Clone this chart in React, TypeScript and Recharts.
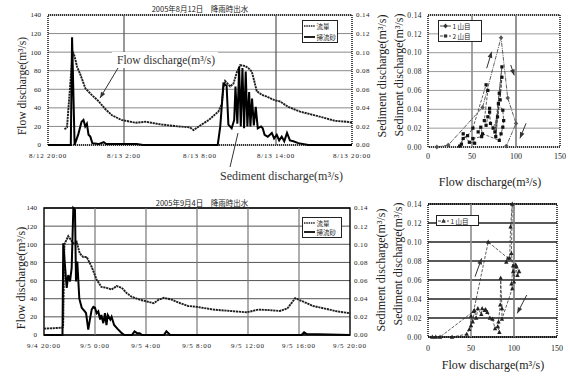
import React from "react";
import {
  LineChart,
  Line,
  ScatterChart,
  Scatter,
  XAxis,
  YAxis,
  CartesianGrid,
  ReferenceLine,
  ReferenceArea,
  Legend,
} from "recharts";

type Pair = [number, number];

const SERIF = "'Liberation Serif', 'DejaVu Serif', serif";
const CJK = "'Noto Sans CJK JP', 'Noto Sans CJK SC', sans-serif";

// time axes: hours after 20:00 of the first day
const augTicks = [0, 6, 12, 18, 24];
const augTickLabels = ["8/12 20:00", "8/13 2:00", "8/13 8:00", "8/13 14:00", "8/13 20:00"];
const sepTicks = [0, 4, 8, 12, 16, 20, 24];
const sepTickLabels = ["9/4 20:00", "9/5 0:00", "9/5 4:00", "9/5 8:00", "9/5 12:00", "9/5 16:00", "9/5 20:00"];
const flowTicks = [0, 20, 40, 60, 80, 100, 120, 140];
const sedTicks = [0, 0.02, 0.04, 0.06, 0.08, 0.1, 0.12, 0.14];
const qTicks = [0, 50, 100, 150];

const seriesNames = ["流量", "掃流砂"];
const loopNames = ["1 山目", "2 山目"];

// 2005/8/12 event  [hour, m3/s]
const augFlow: Pair[] = [
  [1.3, 17], [1.5, 19], [1.95, 100], [2.05, 98], [2.3, 84], [2.55, 76], [2.95, 61], [3.45, 54],
  [4.0, 47], [4.5, 39], [5.05, 32], [5.8, 27], [6.9, 24], [7.7, 25], [9.0, 22], [10.3, 20],
  [11.2, 19], [11.5, 16], [11.9, 20], [12.7, 27], [13.45, 36], [13.72, 44], [13.85, 62],
  [13.98, 69], [14.38, 63], [14.64, 66], [14.9, 78], [15.17, 86], [15.56, 85], [15.8, 83],
  [16.09, 79], [16.3, 68], [16.48, 58], [16.88, 54], [17.3, 52], [17.93, 48], [18.3, 47],
  [18.97, 41], [19.9, 36], [21.6, 30], [22.66, 26], [23.6, 25], [24, 24],
];
const augSediment: Pair[] = [
  [0, 0], [1.8, 0], [1.9, 0.116], [2.1, 0], [2.4, 0.012], [2.65, 0.025], [2.8, 0.027], [2.94, 0.02],
  [3.07, 0.023], [3.2, 0.011], [3.34, 0.009], [3.5, 0.002], [4.0, 0.001], [4.4, 0.003], [4.6, 0.001],
  [7.0, 0.001], [7.5, 0], [13.4, 0], [13.6, 0.02], [13.85, 0.066], [14.1, 0.064], [14.24, 0.022],
  [14.5, 0.018], [14.7, 0.027], [14.8, 0.063], [14.95, 0.023], [15.09, 0.084], [15.22, 0.02],
  [15.35, 0.083], [15.48, 0.018], [15.61, 0.079], [15.74, 0.02], [15.88, 0.057], [15.98, 0.02],
  [16.11, 0.05], [16.25, 0.021], [16.4, 0.041], [16.56, 0.018], [16.82, 0.02], [16.95, 0.018],
  [17.1, 0.011], [17.35, 0.009], [17.67, 0.013], [17.85, 0.007], [18.06, 0.011], [18.25, 0.005],
  [18.45, 0.009], [18.65, 0.004], [18.87, 0.013], [19.1, 0.005], [19.37, 0.004], [19.76, 0.002],
  [20.55, 0], [24, 0],
];

// 2005/9/4 event
const sepFlow: Pair[] = [
  [0, 7], [1.4, 8], [1.5, 9], [1.6, 100], [1.9, 109], [2.3, 101], [2.56, 103], [2.8, 90],
  [3.08, 86], [3.35, 86], [3.74, 75], [4.13, 61], [4.5, 53], [4.9, 52], [5.3, 50], [5.7, 54],
  [6.1, 52], [6.5, 46], [6.9, 42], [7.5, 39], [8.05, 37], [8.6, 35], [9.0, 39], [9.4, 41],
  [10.0, 39], [10.7, 35], [11.3, 32], [12.0, 31], [13.3, 28], [14.6, 26.5], [15.9, 25],
  [16.8, 28], [17.5, 27.6], [18.5, 26.5], [19.1, 29.5], [19.7, 40.5], [20.3, 37], [21.1, 32],
  [21.9, 29.5], [23.0, 26], [24, 24],
];
const sepSediment: Pair[] = [
  [0, 0], [1.45, 0], [1.51, 0.101], [1.78, 0.052], [1.9, 0.066], [2.04, 0.059], [2.17, 0.074],
  [2.3, 0.14], [2.43, 0.138], [2.51, 0.059], [2.61, 0.081], [2.77, 0.04], [2.96, 0.03],
  [3.2, 0.026], [3.3, 0.024], [3.47, 0.006], [3.6, 0.017], [3.74, 0.028], [3.87, 0.031],
  [4.0, 0.03], [4.13, 0.024], [4.26, 0.026], [4.4, 0.017], [4.5, 0.022], [4.65, 0.013],
  [4.78, 0.024], [4.9, 0.011], [5.0, 0.022], [5.2, 0.017], [5.3, 0.02], [5.5, 0.011],
  [5.75, 0.007], [6.1, 0.002], [6.3, 0], [6.9, 0], [7.1, 0.004], [7.3, 0.002], [7.5, 0.002],
  [7.7, 0], [9.4, 0], [9.6, 0.004], [9.9, 0], [20.2, 0], [20.4, 0.003], [20.6, 0.001], [24, 0],
];

// hysteresis loops  [flow, sediment]
const augLoop1: Pair[] = [
  [10, 0], [23, 0.002], [62, 0.042], [83, 0.116], [90.6, 0.052], [100, 0.025], [89, 0.001],
];
const augLoop2: Pair[] = [
  [36, 0.001], [40, 0.009], [45, 0.012], [51, 0.02], [66, 0.066], [68, 0.06], [64, 0.028],
  [66, 0.023], [68, 0.032], [70, 0.041], [70, 0.037], [71, 0.025], [74, 0.02], [79, 0.032],
  [81, 0.057], [84, 0.085], [76, 0.016], [82, 0.05], [84, 0.074], [77, 0.011], [80, 0.046],
  [85, 0.039], [86, 0.028], [85, 0.021], [83, 0.014], [81, 0.007], [62, 0.014], [60, 0.021],
  [57, 0.016], [61, 0.011], [51, 0.009], [53, 0.004], [47, 0.005], [40, 0.014], [38, 0.003],
];
const sepLoop1: Pair[] = [
  [5, 0], [9, 0], [14, 0], [53, 0.027], [70, 0.1], [93, 0.083], [91, 0.079], [95, 0.083],
  [96, 0.116], [98, 0.14], [97, 0.088], [99, 0.069], [100, 0.058], [102, 0.076], [104, 0.065],
  [106, 0.069], [103, 0.074], [99, 0.075], [97, 0.056], [98, 0.051], [86, 0.019], [86, 0.03],
  [84.5, 0.062], [84, 0.034], [82, 0.016], [83, 0.005], [81, 0.011], [78, 0.009], [75, 0.019],
  [72, 0.02], [69, 0.026], [67, 0.029], [66, 0.028], [63, 0.03], [62, 0.024], [58, 0.03],
  [56, 0.02], [54, 0.028], [52, 0.016], [50, 0.022], [50, 0.012], [48, 0.008], [45, 0.003], [28, 0],
];

interface Pointer {
  from: Pair;
  to: Pair;
  head: boolean;
}

const augPointers: Pointer[] = [
  { from: [5.53, 83], to: [4.11, 50.6], head: true },
  { from: [14.37, -23.7], to: [15.0, 12.9], head: false },
];
const augLoopPointers: Pointer[] = [
  { from: [66.7, 0.0835], to: [72.4, 0.101], head: true },
  { from: [94, 0.087], to: [98, 0.076], head: true },
  { from: [111.4, 0.0251], to: [104.5, 0.0092], head: true },
];
const sepLoopPointers: Pointer[] = [
  { from: [54.7, 0.0635], to: [62.4, 0.0828], head: true },
  { from: [114.8, 0.0442], to: [103.8, 0.0249], head: true },
];

const toTime = (pairs: Pair[]) => pairs.map(([h, v]) => ({ h, v }));
const toLoop = (pairs: Pair[]) => pairs.map(([q, s]) => ({ q, s }));

type MarkKind = "diamond" | "square" | "triangle";

function Mark({ cx, cy, kind, fill }: { cx: number; cy: number; kind: MarkKind; fill: string }) {
  if (cx == null || cy == null) return <g />;
  if (kind === "diamond")
    return <polygon points={`${cx},${cy - 2.4} ${cx + 2.2},${cy} ${cx},${cy + 2.4} ${cx - 2.2},${cy}`} fill={fill} />;
  if (kind === "square") return <rect x={cx - 1.6} y={cy - 1.6} width={3.2} height={3.2} fill={fill} />;
  return <polygon points={`${cx},${cy - 2.5} ${cx + 2.2},${cy + 1.7} ${cx - 2.2},${cy + 1.7}`} fill={fill} />;
}

function ArrowShape(props: any) {
  const { x1, y1, x2, y2, head } = props;
  if ([x1, y1, x2, y2].some((n) => n == null || isNaN(n))) return <g />;
  const a = Math.atan2(y2 - y1, x2 - x1);
  const len = 6;
  const w = 2.4;
  const bx = x2 - len * Math.cos(a);
  const by = y2 - len * Math.sin(a);
  const pts = `${x2},${y2} ${bx + w * Math.sin(a)},${by - w * Math.cos(a)} ${bx - w * Math.sin(a)},${by + w * Math.cos(a)}`;
  return (
    <g>
      <line x1={x1} y1={y1} x2={x2} y2={y2} stroke="#333" strokeWidth={1} />
      {head && <polygon points={pts} fill="#333" />}
    </g>
  );
}

interface LegendItem {
  name: string;
  width: number;
  dash?: string;
  marker?: MarkKind;
}

function LegendBox({ items, width, height }: { items: LegendItem[]; width: number; height: number }) {
  return (
    <div
      style={{
        width,
        height,
        boxSizing: "border-box",
        border: "1px solid #222",
        background: "#fff",
        fontFamily: CJK,
        fontSize: 6.5,
        color: "#222",
        display: "flex",
        flexDirection: "column",
        justifyContent: "space-around",
        padding: "0 1px",
      }}
    >
      {items.map((it) => (
        <div key={it.name} style={{ display: "flex", alignItems: "center", height: 8, lineHeight: "8px", whiteSpace: "nowrap" }}>
          <svg width={11} height={6} style={{ flex: "none" }}>
            <line x1={0} y1={3} x2={11} y2={3} stroke="#222" strokeWidth={it.width} strokeDasharray={it.dash} />
            {it.marker && <Mark cx={5.5} cy={3} kind={it.marker} fill="#333" />}
          </svg>
          <span style={{ marginLeft: 1.5 }}>{it.name}</span>
        </div>
      ))}
    </div>
  );
}

const tickStyleY = { fontSize: 7, fontFamily: SERIF, fill: "#222" };
const tickStyleX = { fontSize: 7, fontFamily: SERIF, fill: "#222", letterSpacing: 0.8 };

interface HydroProps {
  top: number;
  height: number;
  plotTop: number;
  xAxisHeight: number;
  leftW: number;
  rightW: number;
  flow: Pair[];
  sediment: Pair[];
  ticks: number[];
  labels: string[];
  gridX: number[];
  gridXColor: string;
  gridYColor: string;
  frameDash?: string;
  legendPos: { left: number; top: number; width: number; height: number };
  pointers: Pointer[];
}

function HydroChart(p: HydroProps) {
  return (
    <div style={{ position: "absolute", left: 0, top: p.top }}>
      <LineChart width={400} height={p.height} margin={{ top: p.plotTop, right: 0, bottom: 0, left: 0 }}>
        <CartesianGrid yAxisId="l" vertical={false} stroke={p.gridYColor} strokeWidth={1} />
        <XAxis
          type="number"
          dataKey="h"
          domain={[0, 24]}
          ticks={p.ticks}
          interval={0}
          tickFormatter={(v) => p.labels[p.ticks.indexOf(v)] ?? ""}
          height={p.xAxisHeight}
          axisLine={false}
          tickLine={false}
          tickSize={6}
          tickMargin={2}
          tick={tickStyleX}
        />
        <YAxis
          yAxisId="l"
          domain={[0, 140]}
          ticks={flowTicks}
          interval={0}
          width={p.leftW}
          axisLine={false}
          tickLine={false}
          tickSize={5}
          tickMargin={2}
          tick={tickStyleY}
        />
        <YAxis
          yAxisId="r"
          orientation="right"
          domain={[0, 0.14]}
          ticks={sedTicks}
          interval={0}
          width={p.rightW}
          axisLine={false}
          tickLine={false}
          tickSize={2}
          tickMargin={2}
          tickFormatter={(v) => v.toFixed(2)}
          tick={{ ...tickStyleY, letterSpacing: 0.4 }}
        />
        {p.gridX.map((x) => (
          <ReferenceLine key={x} yAxisId="l" x={x} stroke={p.gridXColor} strokeWidth={1.2} />
        ))}
        <Line
          yAxisId="l"
          data={toTime(p.flow)}
          dataKey="v"
          type="linear"
          stroke="#1e1e1e"
          strokeWidth={1.9}
          strokeDasharray="2.2 0.7"
          dot={false}
          isAnimationActive={false}
        />
        <Line
          yAxisId="r"
          data={toTime(p.sediment)}
          dataKey="v"
          type="linear"
          stroke="#000"
          strokeWidth={2}
          dot={false}
          isAnimationActive={false}
        />
        <ReferenceArea
          yAxisId="l"
          x1={0}
          x2={24}
          y1={0}
          y2={140}
          fill="none"
          stroke="#000"
          strokeWidth={1.4}
          strokeDasharray={p.frameDash}
        />
        {p.pointers.map((a, i) => (
          <ReferenceLine
            key={i}
            yAxisId="l"
            ifOverflow="visible"
            segment={[{ x: a.from[0], y: a.from[1] }, { x: a.to[0], y: a.to[1] }]}
            shape={(sp: any) => <ArrowShape {...sp} head={a.head} />}
          />
        ))}
        <Legend
          layout="horizontal"
          verticalAlign="middle"
          align="center"
          wrapperStyle={{ ...p.legendPos }}
          content={() => (
            <LegendBox
              width={p.legendPos.width}
              height={p.legendPos.height}
              items={[
                { name: seriesNames[0], width: 1.6, dash: "1.5 0.8" },
                { name: seriesNames[1], width: 2 },
              ]}
            />
          )}
        />
      </LineChart>
    </div>
  );
}

interface LoopSeries {
  name: string;
  data: Pair[];
  shape: MarkKind;
  fill: string;
  dash: string;
}

interface LoopProps {
  top: number;
  height: number;
  plotTop: number;
  right: number;
  xAxisHeight: number;
  xTickSize: number;
  series: LoopSeries[];
  pointers: Pointer[];
  gridColor: string;
  gridWidth: number;
  legendPos: { left: number; top: number; width: number; height: number };
}

function LoopChart(p: LoopProps) {
  return (
    <div style={{ position: "absolute", left: 380, top: p.top }}>
      <ScatterChart width={191} height={p.height} margin={{ top: p.plotTop, right: p.right, bottom: 0, left: 0 }}>
        <CartesianGrid vertical={false} stroke={p.gridColor} strokeWidth={p.gridWidth} />
        <XAxis
          type="number"
          dataKey="q"
          domain={[0, 150]}
          ticks={qTicks}
          interval={0}
          height={p.xAxisHeight}
          axisLine={false}
          tickLine={false}
          tickSize={p.xTickSize}
          tickMargin={2}
          tick={{ ...tickStyleY, fontSize: 8 }}
        />
        <YAxis
          type="number"
          dataKey="s"
          domain={[0, 0.14]}
          ticks={sedTicks}
          interval={0}
          width={48}
          axisLine={false}
          tickLine={false}
          tickSize={4}
          tickMargin={2}
          tickFormatter={(v) => v.toFixed(2)}
          tick={{ ...tickStyleY, fontSize: 7.5, letterSpacing: 0.4 }}
        />
        <ReferenceLine x={50} stroke="#8c8c8c" strokeWidth={1.6} />
        <ReferenceLine x={100} stroke="#7a7a7a" strokeWidth={1.6} />
        {p.series.map((s) => (
          <Scatter
            key={s.name}
            name={s.name}
            data={toLoop(s.data)}
            shape={(sp: any) => <Mark cx={sp.cx} cy={sp.cy} kind={s.shape} fill={s.fill} />}
            fill={s.fill}
            line={{ stroke: "#333", strokeWidth: 0.8, strokeDasharray: s.dash }}
            lineType="joint"
            isAnimationActive={false}
          />
        ))}
        <ReferenceArea x1={0} x2={150} y1={0} y2={0.14} fill="none" stroke="#000" strokeWidth={1.4} strokeDasharray="1 1" />
        {p.pointers.map((a, i) => (
          <ReferenceLine
            key={i}
            ifOverflow="visible"
            segment={[{ x: a.from[0], y: a.from[1] }, { x: a.to[0], y: a.to[1] }]}
            shape={(sp: any) => <ArrowShape {...sp} head={a.head} />}
          />
        ))}
        <Legend
          layout="horizontal"
          verticalAlign="middle"
          align="center"
          wrapperStyle={{ ...p.legendPos }}
          content={() => (
            <LegendBox
              width={p.legendPos.width}
              height={p.legendPos.height}
              items={p.series.map((s) => ({ name: s.name, width: 0.8, dash: s.dash, marker: s.shape }))}
            />
          )}
        />
      </ScatterChart>
    </div>
  );
}

function VText({ x, y, text, size = 12 }: { x: number; y: number; text: string; size?: number }) {
  return (
    <text
      x={x}
      y={y}
      transform={`rotate(-90 ${x} ${y})`}
      textAnchor="middle"
      dominantBaseline="central"
      fontFamily={SERIF}
      fontSize={size}
      fill="#222"
    >
      {text}
    </text>
  );
}

export default function App() {
  return (
    <div style={{ position: "absolute", left: 0, top: 0, width: 571, height: 376, background: "#fff", overflow: "hidden" }}>
      <HydroChart
        top={0}
        height={190}
        plotTop={15}
        xAxisHeight={45}
        leftW={48}
        rightW={48}
        flow={augFlow}
        sediment={augSediment}
        ticks={augTicks}
        labels={augTickLabels}
        gridX={[6, 18]}
        gridXColor="#555"
        gridYColor="#8a8a8a"
        frameDash="1 1"
        legendPos={{ left: 302, top: 20, width: 36, height: 23 }}
        pointers={augPointers}
      />
      <HydroChart
        top={190}
        height={186}
        plotTop={18}
        xAxisHeight={41}
        leftW={44}
        rightW={50}
        flow={sepFlow}
        sediment={sepSediment}
        ticks={sepTicks}
        labels={sepTickLabels}
        gridX={[4, 8, 12, 16, 20]}
        gridXColor="#777"
        gridYColor="#555"
        legendPos={{ left: 302, top: 27, width: 40, height: 21 }}
        pointers={[]}
      />
      <LoopChart
        top={0}
        height={190}
        plotTop={15}
        right={11}
        xAxisHeight={43}
        xTickSize={4}
        series={[
          { name: loopNames[0], data: augLoop1, shape: "diamond", fill: "#555", dash: "4 1 1 1" },
          { name: loopNames[1], data: augLoop2, shape: "square", fill: "#111", dash: "3 1.5" },
        ]}
        pointers={augLoopPointers}
        gridColor="#9a9a9a"
        gridWidth={1}
        legendPos={{ left: 58, top: 20, width: 44, height: 22 }}
      />
      <LoopChart
        top={190}
        height={186}
        plotTop={14}
        right={14}
        xAxisHeight={39}
        xTickSize={6}
        series={[{ name: loopNames[0], data: sepLoop1, shape: "triangle", fill: "#222", dash: "3 1.5" }]}
        pointers={sepLoopPointers}
        gridColor="#222"
        gridWidth={1.3}
        legendPos={{ left: 56, top: 25, width: 43, height: 11 }}
      />
      <svg width={571} height={376} style={{ position: "absolute", left: 0, top: 0, pointerEvents: "none" }}>
        <text x={200} y={8} textAnchor="middle" dominantBaseline="central" fontFamily={CJK} fontSize={7.5} fill="#222">
          2005年8月12日　降雨時出水
        </text>
        <text x={202} y={202} textAnchor="middle" dominantBaseline="central" fontFamily={CJK} fontSize={7.5} fill="#222">
          2005年9月4日　降雨時出水
        </text>
        <VText x={22} y={86} text="Flow discharge(m³/s)" size={11.5} />
        <VText x={382} y={76} text="Sediment discharge(m³/s)" />
        <VText x={399} y={75} text="Sediment discharge(m³/s)" />
        <VText x={21} y={278} text="Flow discharge(m³/s)" />
        <VText x={381} y={270} text="Sediment discharge(m³/s)" />
        <VText x={398} y={264} text="Sediment discharge(m³/s)" />
        <text x={490} y={182} textAnchor="middle" dominantBaseline="central" fontFamily={SERIF} fontSize={12} fill="#222">
          Flow discharge(m³/s)
        </text>
        <text x={493} y={365} textAnchor="middle" dominantBaseline="central" fontFamily={SERIF} fontSize={12} fill="#222">
          Flow discharge(m³/s)
        </text>
        <rect x={112} y={52} width={106} height={16} fill="#fff" />
        <text x={117} y={60} dominantBaseline="central" fontFamily={SERIF} fontSize={11.5} fill="#333">
          Flow discharge(m³/s)
        </text>
        <text x={220} y={176} dominantBaseline="central" fontFamily={SERIF} fontSize={12} fill="#333">
          Sediment discharge(m³/s)
        </text>
      </svg>
    </div>
  );
}
